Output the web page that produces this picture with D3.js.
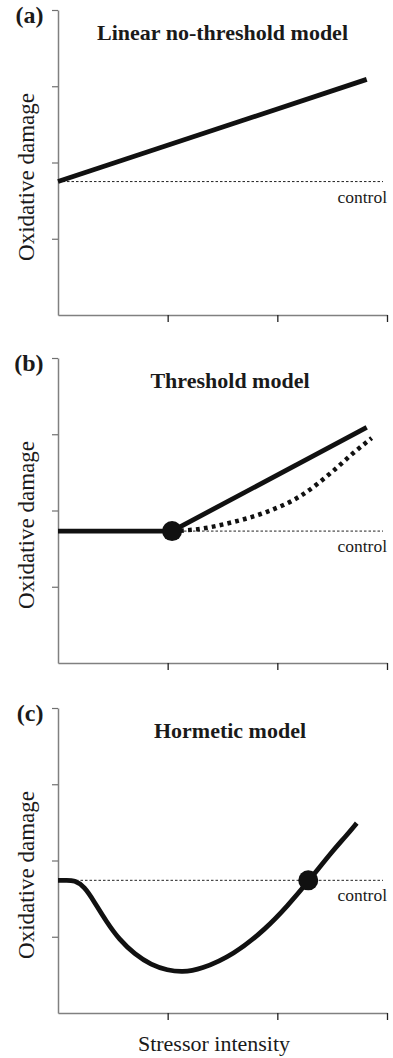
<!DOCTYPE html>
<html>
<head>
<meta charset="utf-8">
<script src="https://cdn.jsdelivr.net/npm/d3@7"></script>
<style>
  html, body { margin: 0; padding: 0; background: #fff; }
  svg { display: block; }
  text { font-family: "Liberation Serif", "Times New Roman", serif; fill: #1a1a1a; }
</style>
</head>
<body>
<svg id="chart"></svg>
<script>
// ---- data (x: stressor intensity, y: oxidative damage, arbitrary units) ----
const panelLabels = ["(a)", "(b)", "(c)"];
const panelTitles = ["Linear no-threshold model", "Threshold model", "Hormetic model"];
const xTicks = [1, 2, 3];
const yTicks = [1, 2, 3, 4];
const controlLevel = [1.75, 1.73, 1.74];

const linearModel = [[0, 1.75], [2.815, 3.09]];

const thresholdFlat = [[0, 1.73], [1.04, 1.73]];
const thresholdLinear = [[1.04, 1.73], [2.815, 3.09]];
const thresholdCurve = [[1.04, 1.73], [1.3, 1.76], [1.6, 1.85], [1.9, 1.98], [2.21, 2.19],
  [2.51, 2.52], [2.69, 2.75], [2.86, 2.95]];
const thresholdPoint = [1.04, 1.73];

const hormeticCurve = [[0, 1.74], [0.08, 1.74], [0.15, 1.74], [0.24, 1.66], [0.33, 1.46],
  [0.44, 1.2], [0.56, 0.96], [0.7, 0.77], [0.85, 0.63], [1.0, 0.56],
  [1.13, 0.535], [1.3, 0.57], [1.6, 0.76], [1.9, 1.11], [2.09, 1.4],
  [2.28, 1.72], [2.5, 2.12], [2.62, 2.31], [2.724, 2.49]];
const hormeticPoint = [2.282, 1.74];

// ---- layout ----
const W = 393, H = 1058;
const left = 58, right = 387, plotH = 305;
const tops = [10, 358, 708];
const titleX = [222.5, 230, 230];

const svg = d3.select('#chart').attr('width', W).attr('height', H);
svg.append('rect').attr('width', W).attr('height', H).attr('fill', '#fff');

const x = d3.scaleLinear().domain([0, 3]).range([left, right]);

const lineGen = (y) => d3.line().x(d => x(d[0])).y(d => y(d[1]));
const curveGen = (y, curve) => d3.line().x(d => x(d[0])).y(d => y(d[1])).curve(curve);

tops.forEach((top, i) => {
    const y = d3.scaleLinear().domain([0, 4]).range([top + plotH, top]);
    const g = svg.append('g').attr('class', 'panel');

    // axes
    const ya = g.append('g').attr('transform', `translate(${left},0)`)
        .call(d3.axisLeft(y).tickValues(yTicks).tickSize(6).tickSizeOuter(0).tickFormat(''));
    ya.select('.domain').attr('stroke', '#808080').attr('stroke-width', 1.5);
    ya.selectAll('.tick line').attr('stroke', '#707070').attr('stroke-width', 1.2);

    const xa = g.append('g').attr('transform', `translate(0,${top + plotH})`)
        .call(d3.axisBottom(x).tickValues(xTicks).tickSize(7).tickSizeOuter(0).tickFormat(''));
    xa.select('.domain').attr('stroke', '#808080').attr('stroke-width', 1.5);
    xa.selectAll('.tick line').attr('stroke', '#222').attr('stroke-width', 1.3);

    // control reference
    g.append('line')
        .attr('x1', x(0)).attr('x2', 383)
        .attr('y1', y(controlLevel[i])).attr('y2', y(controlLevel[i]))
        .attr('stroke', '#222').attr('stroke-width', 1).attr('stroke-dasharray', '2.5,2');
    g.append('text')
        .attr('x', 387).attr('y', y(controlLevel[i]) + 21)
        .attr('text-anchor', 'end').attr('font-size', 17.5)
        .text('control');

    // labels
    g.append('text')
        .attr('x', 43.5).attr('y', top + 13)
        .attr('text-anchor', 'end').attr('font-size', 24).attr('font-weight', 'bold')
        .text(panelLabels[i]);
    g.append('text')
        .attr('x', titleX[i]).attr('y', top + 30)
        .attr('text-anchor', 'middle').attr('font-size', 22).attr('font-weight', 'bold')
        .text(panelTitles[i]);
    g.append('text')
        .attr('transform', `translate(34,${top + 167}) rotate(-90)`)
        .attr('text-anchor', 'middle').attr('font-size', 23)
        .text('Oxidative damage');

    const thick = { stroke: '#111', width: 4.8 };

    if (i === 0) {
        g.append('path').attr('d', lineGen(y)(linearModel))
            .attr('fill', 'none').attr('stroke', thick.stroke).attr('stroke-width', thick.width);
    } else if (i === 1) {
        g.append('path').attr('d', curveGen(y, d3.curveMonotoneX)(thresholdCurve))
            .attr('fill', 'none').attr('stroke', thick.stroke).attr('stroke-width', 4.5)
            .attr('stroke-dasharray', '3.8,4.2');
        g.append('path').attr('d', lineGen(y)(thresholdFlat))
            .attr('fill', 'none').attr('stroke', thick.stroke).attr('stroke-width', thick.width);
        g.append('path').attr('d', lineGen(y)(thresholdLinear))
            .attr('fill', 'none').attr('stroke', thick.stroke).attr('stroke-width', thick.width);
        g.append('circle').attr('cx', x(thresholdPoint[0])).attr('cy', y(thresholdPoint[1]))
            .attr('r', 10).attr('fill', '#111');
    } else {
        g.append('path').attr('d', curveGen(y, d3.curveBasis)(hormeticCurve))
            .attr('fill', 'none').attr('stroke', thick.stroke).attr('stroke-width', thick.width);
        g.append('circle').attr('cx', x(hormeticPoint[0])).attr('cy', y(hormeticPoint[1]))
            .attr('r', 10).attr('fill', '#111');
        g.append('text')
            .attr('x', 214).attr('y', top + plotH + 38)
            .attr('text-anchor', 'middle').attr('font-size', 22)
            .text('Stressor intensity');
    }
});
</script>
</body>
</html>
